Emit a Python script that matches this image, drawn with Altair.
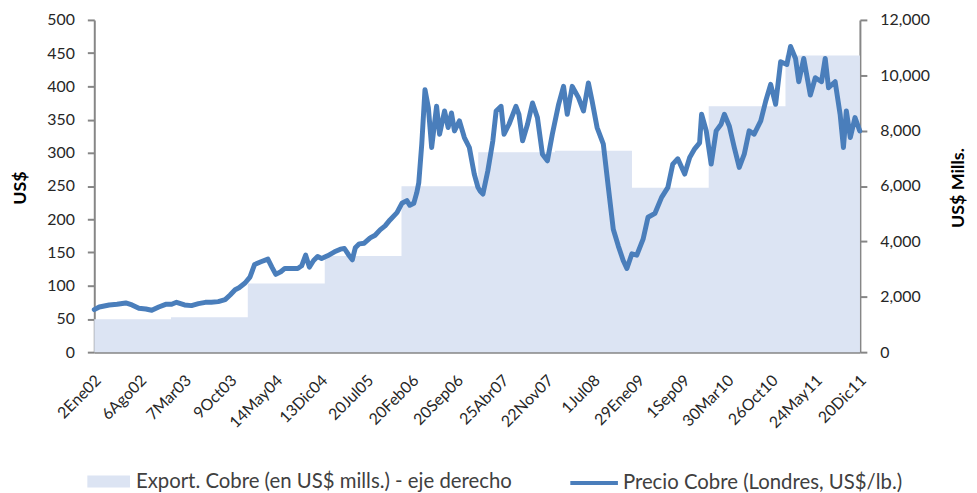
import altair as alt
import pandas as pd

# ---- data ----
export_years = [2002, 2003, 2004, 2005, 2006, 2007, 2008, 2009, 2010, 2011]
export_values = [1187, 1261, 2481, 3472, 5996, 7219, 7277, 5935, 8879, 10711]

# copper price (US$ cents/lb), time as decimal years
price_time = [
    2002.000, 2002.065, 2002.194, 2002.297, 2002.410, 2002.491, 2002.581, 2002.672, 2002.749, 2002.840,
    2002.930, 2003.008, 2003.072, 2003.176, 2003.266, 2003.357, 2003.447, 2003.525, 2003.615, 2003.705,
    2003.770, 2003.835, 2003.886, 2003.964, 2004.028, 2004.089, 2004.171, 2004.261, 2004.313, 2004.364,
    2004.429, 2004.481, 2004.558, 2004.649, 2004.700, 2004.752, 2004.800, 2004.855, 2004.907, 2004.959,
    2005.036, 2005.127, 2005.204, 2005.256, 2005.307, 2005.359, 2005.398, 2005.450, 2005.514, 2005.592,
    2005.656, 2005.721, 2005.786, 2005.850, 2005.941, 2006.005, 2006.070, 2006.109, 2006.160, 2006.199,
    2006.225, 2006.264, 2006.306, 2006.350, 2006.393, 2006.457, 2006.496, 2006.561, 2006.608, 2006.651,
    2006.690, 2006.755, 2006.819, 2006.884, 2006.948, 2006.996, 2007.026, 2007.061, 2007.125, 2007.190,
    2007.233, 2007.297, 2007.336, 2007.401, 2007.491, 2007.530, 2007.578, 2007.642, 2007.707, 2007.771,
    2007.836, 2007.901, 2007.965, 2008.047, 2008.111, 2008.159, 2008.224, 2008.305, 2008.370, 2008.434,
    2008.482, 2008.547, 2008.628, 2008.693, 2008.757, 2008.822, 2008.886, 2008.934, 2008.999, 2009.063,
    2009.145, 2009.209, 2009.300, 2009.386, 2009.468, 2009.532, 2009.597, 2009.687, 2009.752, 2009.817,
    2009.881, 2009.907, 2009.968, 2010.032, 2010.097, 2010.161, 2010.204, 2010.269, 2010.333, 2010.398,
    2010.463, 2010.527, 2010.592, 2010.678, 2010.743, 2010.807, 2010.872, 2010.937, 2011.018, 2011.066,
    2011.131, 2011.173, 2011.238, 2011.324, 2011.389, 2011.470, 2011.518, 2011.561, 2011.647, 2011.712,
    2011.755, 2011.793, 2011.845, 2011.906, 2011.968,
]
price_values = [
    64, 68, 71, 72, 74, 71, 66, 65, 63, 68,
    72, 72, 75, 71, 70, 73, 75, 75, 76, 79,
    86, 94, 97, 104, 113, 132, 136, 140, 128, 117,
    121, 126, 126, 126, 130, 146, 128, 138, 144, 141,
    145, 151, 155, 156, 147, 139, 157, 163, 164, 172,
    176, 184, 190, 199, 210, 224, 228, 221, 224, 240,
    255, 313, 395, 368, 308, 370, 328, 363, 338, 360,
    333, 348, 323, 308, 268, 248, 242, 238, 273, 318,
    363, 370, 328, 343, 370, 358, 318, 343, 375, 353,
    298, 288, 328, 373, 400, 358, 400, 383, 363, 405,
    378, 338, 313, 248, 185, 160, 138, 126, 148, 146,
    170, 203, 209, 233, 248, 283, 291, 268, 293, 306,
    315, 358, 333, 283, 333, 343, 358, 340, 308, 278,
    298, 333, 328, 348, 378, 403, 373, 437, 433, 460,
    442, 407, 442, 387, 413, 407, 442, 398, 407, 358,
    308, 363, 323, 353, 333,
]

tick_dates = ["2002-01-02", "2002-08-06", "2003-03-07", "2003-10-09", "2004-05-14", "2004-12-13",
              "2005-07-20", "2006-02-20", "2006-09-20", "2007-04-25", "2007-11-22", "2008-07-01",
              "2009-01-29", "2009-09-01", "2010-03-30", "2010-10-26", "2011-05-24", "2011-12-20"]
month_names = ["Ene", "Feb", "Mar", "Abr", "May", "Jun", "Jul", "Ago", "Sep", "Oct", "Nov", "Dic"]

serie_exp = "Export. Cobre (en US$ mills.) - eje derecho"
serie_price = "Precio Cobre (Londres, US$/lb.)"


def dec_to_iso(t):
    y = int(t)
    start = pd.Timestamp(year=y, month=1, day=1)
    end = pd.Timestamp(year=y + 1, month=1, day=1)
    d = start + (end - start) * (t - y)
    return d.strftime("%Y-%m-%dT%H:%M:%SZ")


def to_ms(s):
    return int(pd.Timestamp(s, tz="UTC").timestamp() * 1000)


end_date = "2011-12-21"
exp_df = pd.DataFrame({
    "date": [f"{y}-01-01T00:00:00Z" for y in export_years] + [end_date + "T00:00:00Z"],
    "value": export_values + [export_values[-1]],
    "serie": serie_exp,
})
price_df = pd.DataFrame({
    "date": [dec_to_iso(t) for t in price_time],
    "price": price_values,
    "serie": serie_price,
})

FONT = "Lato"
LABEL_COLOR = "#262626"
AXIS_COLOR = "#868686"

month_js = "[" + ",".join(f"'{m}'" for m in month_names) + "]"
x_enc = alt.X(
    "date:T",
    scale=alt.Scale(type="utc", domain=[to_ms("2002-01-01"), to_ms(end_date)], nice=False),
    axis=alt.Axis(
        title=None,
        values=[to_ms(d) for d in tick_dates],
        labelExpr=f"utcdate(datum.value) + {month_js}[utcmonth(datum.value)] + utcFormat(datum.value, '%y')",
        labelAngle=-45,
        labelAlign="right",
        labelBaseline="top",
        labelPadding=20,
        labelOffset=-2,
        ticks=False,
        grid=False,
        domainColor=AXIS_COLOR,
        domainWidth=2,
        labelFont=FONT,
        labelFontSize=16,
        labelColor=LABEL_COLOR,
        labelOverlap=False,
        labelFlush=False,
        labelBound=False,
    ),
)

area = alt.Chart(exp_df).mark_area(interpolate="step-after", opacity=1).encode(
    x=x_enc,
    y=alt.Y(
        "value:Q",
        scale=alt.Scale(domain=[0, 12000], nice=False, zero=True),
        axis=alt.Axis(
            orient="right",
            title="US$ Mills.",
            values=[0, 2000, 4000, 6000, 8000, 10000, 12000],
            format=",d",
            grid=False,
            domainColor=AXIS_COLOR,
            domainWidth=2,
            tickColor=AXIS_COLOR,
            tickWidth=2,
            tickSize=7,
            labelPadding=13,
            labelFont=FONT,
            labelFontSize=16,
            labelColor=LABEL_COLOR,
            titleFont=FONT,
            titleFontSize=18,
            titleFontWeight="bold",
            titleColor="#000000",
            titleAngle=270,
            titleX=99,
            titleY=169,
            titleAlign="center",
            titleBaseline="middle",
        ),
    ),
    fill=alt.Fill(
        "serie:N",
        scale=alt.Scale(domain=[serie_exp], range=["#dce4f3"]),
        legend=alt.Legend(
            title=None,
            orient="none",
            legendX=-7,
            legendY=444,
            symbolType="M-1,-0.28H1V0.28H-1Z",
            symbolSize=1849,
            symbolStrokeWidth=0,
            labelFont=FONT,
            labelFontSize=20.5,
            labelColor="#404040",
            labelOffset=6,
            labelLimit=600,
        ),
    ),
)

line = alt.Chart(price_df).mark_line(strokeWidth=5, strokeJoin="round", strokeCap="round").encode(
    x=x_enc,
    y=alt.Y(
        "price:Q",
        scale=alt.Scale(domain=[0, 500], nice=False, zero=True),
        axis=alt.Axis(
            orient="left",
            title="US$",
            values=list(range(0, 501, 50)),
            grid=False,
            domainColor=AXIS_COLOR,
            domainWidth=2,
            tickColor=AXIS_COLOR,
            tickWidth=2,
            tickSize=7,
            labelPadding=13,
            labelFont=FONT,
            labelFontSize=16,
            labelColor=LABEL_COLOR,
            titleFont=FONT,
            titleFontSize=18,
            titleFontWeight="bold",
            titleColor="#000000",
            titleAngle=270,
            titleX=-74,
            titleY=169,
            titleAlign="center",
            titleBaseline="middle",
        ),
    ),
    stroke=alt.Stroke(
        "serie:N",
        scale=alt.Scale(domain=[serie_price], range=["#4a7ebb"]),
        legend=alt.Legend(
            title=None,
            orient="none",
            legendX=478,
            legendY=441,
            symbolType="stroke",
            symbolSize=2304,
            symbolStrokeWidth=4,
            labelFont=FONT,
            labelFontSize=20.5,
            labelColor="#404040",
            labelOffset=3,
            labelLimit=600,
        ),
    ),
)

chart = (
    alt.layer(area, line)
    .resolve_scale(y="independent", fill="independent", stroke="independent")
    .properties(
        width=772,
        height=335,
        padding={"left": 87, "top": 10, "right": 110, "bottom": 140},
        autosize=alt.AutoSizeParams(type="none"),
    )
    .configure_view(stroke=None)
)

chart.save("out.html", embed_options={"renderer": "svg", "actions": False})
